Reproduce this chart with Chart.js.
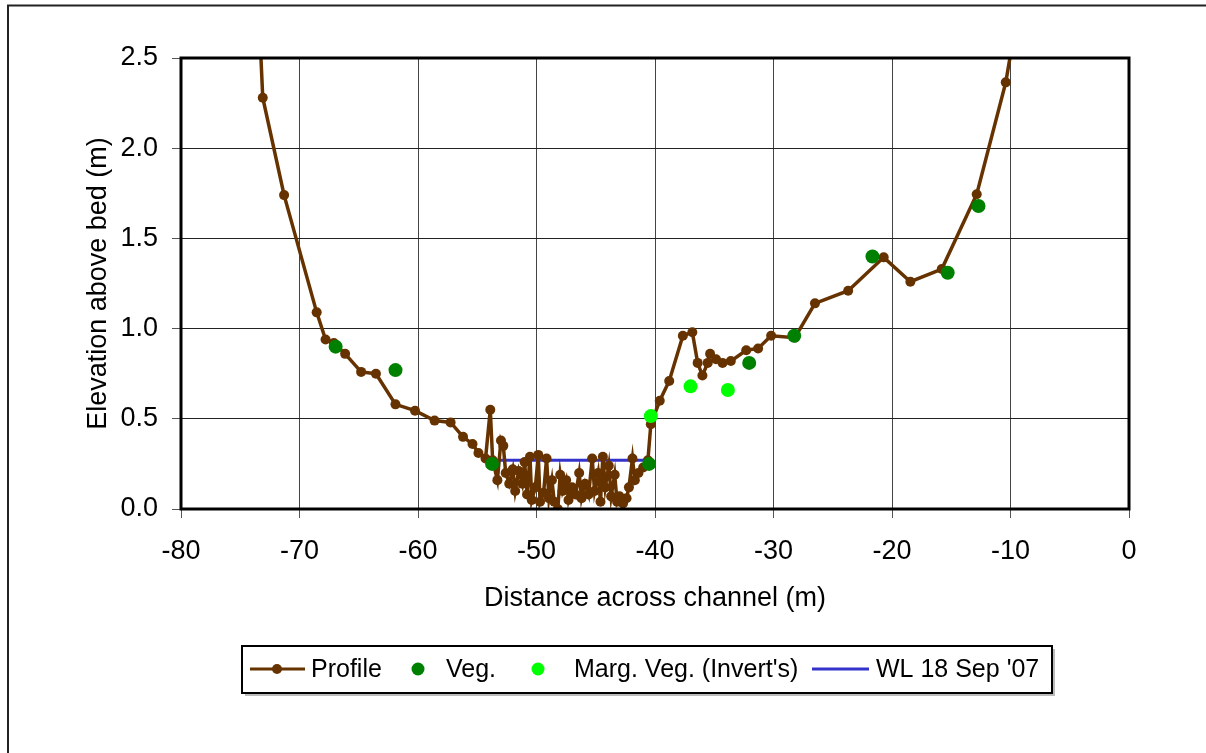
<!DOCTYPE html>
<html>
<head>
<meta charset="utf-8">
<script src="https://cdn.jsdelivr.net/npm/chart.js@4/dist/chart.umd.min.js"></script>
<style>
  html, body { margin: 0; padding: 0; background: #fff; }
  canvas { display: block; }
</style>
</head>
<body>
<canvas id="profile-chart" width="1206" height="753"></canvas>
<script>
// survey profile across the channel (points past the top are cut off by the axis)
const profileX = [-73.6, -73.1, -71.3, -68.55, -67.8, -67.1, -66.15, -64.8, -63.55, -61.9,
  -60.25, -58.6, -57.25, -56.2, -55.4, -54.9, -54.3, -53.9, -53.7, -53.3,
  -53.0, -52.8, -52.6, -52.3, -52.0, -51.8, -51.5, -51.2, -51.0, -50.8,
  -50.55, -50.4, -50.1, -49.85, -49.7, -49.4, -49.15, -48.95, -48.7, -48.5,
  -48.2, -48.0, -47.8, -47.5, -47.3, -47.0, -46.7, -46.4, -46.2, -45.9,
  -45.6, -45.3, -45.1, -44.8, -44.6, -44.4, -44.2, -43.9, -43.7, -43.4,
  -43.2, -43.0, -42.7, -42.4, -42.2, -41.9, -41.7, -41.4, -41.0, -40.6,
  -40.35, -39.6, -38.8, -37.65, -36.85, -36.4, -36.0, -35.55, -35.35, -34.85,
  -34.3, -33.6, -32.3, -31.3, -30.2, -28.2, -26.5, -23.7, -20.7, -18.45,
  -15.8, -12.85, -10.4, -8.75];
const profileY = [3.0, 2.28, 1.74, 1.09, 0.94, 0.92, 0.86, 0.76, 0.75, 0.58,
  0.545, 0.49, 0.48, 0.40, 0.36, 0.31, 0.28, 0.55, 0.27, 0.16,
  0.38, 0.35, 0.20, 0.14, 0.22, 0.10, 0.21, 0.14, 0.26, 0.08,
  0.29, 0.05, 0.12, 0.30, 0.04, 0.09, 0.28, 0.06, 0.16, 0.04,
  0.0, 0.19, 0.10, 0.16, 0.05, 0.12, 0.08, 0.20, 0.06, 0.14,
  0.08, 0.28, 0.10, 0.20, 0.04, 0.29, 0.12, 0.24, 0.07, 0.19,
  0.04, 0.07, 0.03, 0.06, 0.12, 0.28, 0.16, 0.20, 0.23, 0.27,
  0.47, 0.60, 0.71, 0.96, 0.98, 0.81, 0.74, 0.81, 0.86, 0.83,
  0.81, 0.82, 0.88, 0.89, 0.96, 0.95, 1.14, 1.21, 1.395, 1.26,
  1.33, 1.745, 2.365, 3.0];

const vegX = [-66.95, -61.9, -53.75, -40.5, -32.05, -28.25, -21.65, -15.3, -12.7];
const vegY = [0.90, 0.77, 0.25, 0.25, 0.81, 0.96, 1.40, 1.31, 1.68];

const margX = [-40.35, -37.0, -33.85];
const margY = [0.515, 0.68, 0.66];

const wlX = [-53.4, -40.8];
const wlY = [0.27, 0.27];

const xTicks = [-80, -70, -60, -50, -40, -30, -20, -10, 0];
const yTicks = [0, 0.5, 1.0, 1.5, 2.0, 2.5];

function pts(xs, ys) {
  return xs.map((x, i) => ({x: x, y: ys[i]}));
}

const FONT = 'Liberation Sans, Arial, sans-serif';
const BROWN = '#663300';
const GREEN = '#008000';
const LIME = '#00FF00';
const BLUE = '#3333CC';

// outer frame, plot border and the boxed legend
const framePlugin = {
  id: 'frame',
  afterDraw(chart) {
    const ctx = chart.ctx;
    const a = chart.chartArea;
    ctx.save();
    ctx.strokeStyle = '#222';
    ctx.lineWidth = 2;
    ctx.strokeRect(8, 5.5, 1300, 1000);

    ctx.strokeStyle = '#000';
    ctx.lineWidth = 3;
    ctx.strokeRect(a.left, a.top, a.right - a.left, a.bottom - a.top);

    // legend box
    const bx = 242, by = 646, bw = 810, bh = 47;
    ctx.fillStyle = '#bbb';
    ctx.fillRect(bx + 3, by + 3, bw, bh);
    ctx.fillStyle = '#fff';
    ctx.fillRect(bx, by, bw, bh);
    ctx.strokeStyle = '#000';
    ctx.lineWidth = 2;
    ctx.strokeRect(bx, by, bw, bh);

    const cy = 669;
    ctx.font = '25px ' + FONT;
    ctx.textBaseline = 'middle';
    ctx.textAlign = 'left';

    ctx.strokeStyle = BROWN; ctx.lineWidth = 3;
    ctx.beginPath(); ctx.moveTo(250, cy); ctx.lineTo(305, cy); ctx.stroke();
    ctx.fillStyle = BROWN;
    ctx.beginPath(); ctx.arc(277, cy, 5, 0, Math.PI * 2); ctx.fill();
    ctx.fillStyle = '#000'; ctx.fillText(chart.data.datasets[0].label, 311, cy + 1);

    ctx.fillStyle = GREEN;
    ctx.beginPath(); ctx.arc(418, cy, 6.5, 0, Math.PI * 2); ctx.fill();
    ctx.fillStyle = '#000'; ctx.fillText(chart.data.datasets[1].label, 446, cy + 1);

    ctx.fillStyle = LIME;
    ctx.beginPath(); ctx.arc(538, cy, 6.5, 0, Math.PI * 2); ctx.fill();
    ctx.fillStyle = '#000'; ctx.fillText(chart.data.datasets[2].label, 574, cy + 1);

    ctx.strokeStyle = BLUE; ctx.lineWidth = 3;
    ctx.beginPath(); ctx.moveTo(812, cy); ctx.lineTo(869, cy); ctx.stroke();
    ctx.fillStyle = '#000'; ctx.fillText(chart.data.datasets[3].label, 876, cy + 1);
    ctx.restore();
  }
};

let profileChart = new Chart(document.getElementById('profile-chart').getContext('2d'), {
  type: 'scatter',
  data: {
    datasets: [{
      label: 'Profile',
      data: pts(profileX, profileY),
      showLine: true,
      borderColor: BROWN,
      backgroundColor: BROWN,
      borderWidth: 3.5,
      pointRadius: 5,
      pointBorderWidth: 0,
      order: 2
    }, {
      label: 'Veg.',
      data: pts(vegX, vegY),
      backgroundColor: GREEN,
      borderColor: GREEN,
      pointRadius: 7,
      pointBorderWidth: 0,
      order: 1
    }, {
      label: "Marg. Veg. (Invert's)",
      data: pts(margX, margY),
      backgroundColor: LIME,
      borderColor: LIME,
      pointRadius: 7,
      pointBorderWidth: 0,
      order: 0
    }, {
      label: "WL 18 Sep '07",
      data: pts(wlX, wlY),
      showLine: true,
      borderColor: BLUE,
      backgroundColor: BLUE,
      borderWidth: 3,
      pointRadius: 0,
      order: 3
    }]
  },
  options: {
    responsive: false,
    animation: false,
    layout: { padding: { top: 58, right: 77, left: 0, bottom: 124 } },
    plugins: {
      legend: { display: false },
      tooltip: { enabled: false }
    },
    scales: {
      x: {
        type: 'linear',
        min: -80,
        max: 0,
        afterFit(scale) { scale.height = 120; },
        afterBuildTicks(scale) { scale.ticks = xTicks.map(v => ({value: v})); },
        ticks: { color: '#000', font: { family: FONT, size: 27 }, padding: 17 },
        grid: { color: '#444', lineWidth: 1, tickLength: 9, tickColor: '#555' },
        border: { display: false },
        title: {
          display: true,
          text: 'Distance across channel (m)',
          color: '#000',
          font: { family: FONT, size: 27 },
          padding: { bottom: 14 }
        }
      },
      y: {
        type: 'linear',
        min: 0,
        max: 2.5,
        afterFit(scale) { scale.width = 181; },
        afterBuildTicks(scale) { scale.ticks = yTicks.map(v => ({value: v})); },
        ticks: {
          color: '#000',
          font: { family: FONT, size: 27 },
          padding: 14,
          callback: v => v.toFixed(1)
        },
        grid: { color: '#222', lineWidth: 1, tickLength: 9, tickColor: '#555' },
        border: { display: false },
        title: {
          display: true,
          text: 'Elevation above bed (m)',
          color: '#000',
          font: { family: FONT, size: 27 },
          padding: { top: 82 }
        }
      }
    }
  },
  plugins: [framePlugin]
});
</script>
</body>
</html>
